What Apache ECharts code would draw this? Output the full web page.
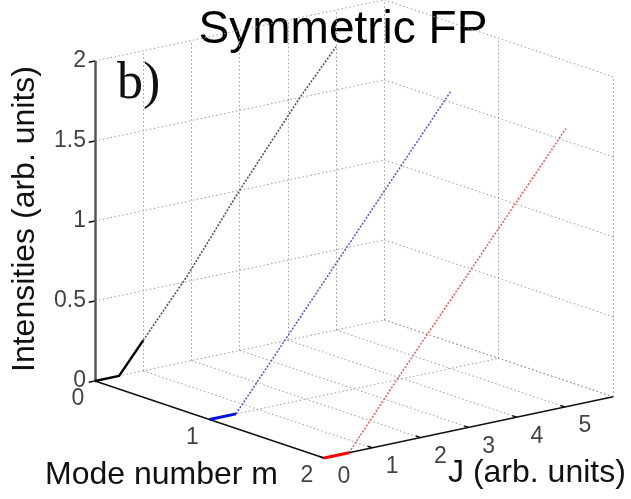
<!DOCTYPE html>
<html>
<head>
<meta charset="utf-8">
<title>Symmetric FP</title>
<script src="https://cdn.jsdelivr.net/npm/echarts@6/dist/echarts.min.js"></script>
<style>
    html, body { margin: 0; padding: 0; background: #fff; }
    #main { width: 631px; height: 499px; }
</style>
</head>
<body>
<div id="main"></div>
<script>
// axis limits and ticks
var mTicks = [0, 1, 2]
var jTicks = [0, 1, 2, 3, 4, 5]
var iTicks = [0, 0.5, 1, 1.5, 2]
var iTickLabels = ['0', '0.5', '1', '1.5', '2']
var mMax = 2, jMax = 6, iMax = 2
var jGrid = [1, 2, 3, 4, 5, 6]

// mode m = 0 (black)
var blackSolidJ = [0, 0.5, 1.0]
var blackSolidI = [0, 0, 0.19]
var blackDotJ = [1.0, 1.9, 3.0, 4.25, 5.0]
var blackDotI = [0.19, 0.53, 1.0, 1.5, 1.77]
// mode m = 1 (blue)
var blueSolidJ = [0, 0.55]
var blueSolidI = [0, 0]
var blueDotJ = [0.55, 1.55, 5.0]
var blueDotI = [0, 0.39, 1.73]
// mode m = 2 (red)
var redSolidJ = [0, 0.52]
var redSolidI = [0, 0]
var redDotJ = [0.52, 1.53, 5.02]
var redDotI = [0, 0.40, 1.74]

// view: where the 3d box lands on the page
var origin = [95, 381]
var mVec = [114.5, 38.5]
var jVec = [48.2, -10.2]
var iScale = 160

function proj(m, j, i) {
    return [origin[0] + m * mVec[0] + j * jVec[0],
            origin[1] + m * mVec[1] + j * jVec[1] - i * iScale]
}

function curve(m, js, is) {
    var out = []
    for (var k = 0; k < js.length; k++) {
        out.push(proj(m, js[k], is[k]))
    }
    return out
}

function seg(a, b) {
    return { coords: [a, b] }
}

// dotted grid on the back wall, side wall and floor
var grid = []
for (var a = 0; a < jGrid.length; a++) {
    var j = jGrid[a]
    grid.push(seg(proj(0, j, 0), proj(0, j, iMax)))
    grid.push(seg(proj(0, j, 0), proj(mMax, j, 0)))
}
for (var b = 0; b < iTicks.length; b++) {
    var iv = iTicks[b]
    grid.push(seg(proj(0, 0, iv), proj(0, jMax, iv)))
    grid.push(seg(proj(0, jMax, iv), proj(mMax, jMax, iv)))
}
for (var c = 1; c < mTicks.length; c++) {
    grid.push(seg(proj(mTicks[c], jMax, 0), proj(mTicks[c], jMax, iMax)))
}
grid.push(seg(proj(1, 0, 0), proj(1, jMax, 0)))

// solid axes and tick marks
var axes = [
    seg(proj(0, 0, 0), proj(mMax, 0, 0)),
    seg(proj(mMax, 0, 0), proj(mMax, jMax, 0))
]
var ticks = []
for (var d = 0; d < jTicks.length; d++) {
    ticks.push(seg(proj(mMax, jTicks[d], 0), proj(mMax - 0.04, jTicks[d], 0)))
}
for (var e = 0; e < iTicks.length; e++) {
    ticks.push(seg(proj(0, 0, iTicks[e]), proj(0, -0.13, iTicks[e])))
}

var iLabelData = [], mLabelData = [], jLabelData = []
for (var f = 0; f < iTicks.length; f++) {
    var p = proj(0, 0, iTicks[f])
    iLabelData.push([p[0], p[1], iTickLabels[f]])
}
for (var g = 0; g < mTicks.length; g++) {
    var q = proj(mTicks[g], 0, 0)
    mLabelData.push([q[0], q[1], String(mTicks[g])])
}
for (var h = 0; h < jTicks.length; h++) {
    var r = proj(mMax, jTicks[h], 0)
    jLabelData.push([r[0], r[1], String(jTicks[h])])
}

function labelSeries(data, pos, offset) {
    return {
        type: 'scatter',
        data: data,
        symbolSize: 0,
        silent: true,
        label: {
            show: true,
            position: pos,
            distance: 9,
            offset: offset,
            formatter: function (pr) { return pr.value[2] },
            fontFamily: 'Liberation Sans',
            fontSize: 23,
            color: '#111'
        }
    }
}

function lineSeries(pts, color, width, type, z) {
    return {
        type: 'line',
        data: pts,
        showSymbol: false,
        silent: true,
        lineStyle: { color: color, width: width, type: type },
        z: z
    }
}

var myChart = echarts.init(document.getElementById('main'), null, { renderer: 'canvas' })
var option = {
    animation: false,
    backgroundColor: '#fff',
    grid: { left: 0, right: 0, top: 0, bottom: 0 },
    xAxis: { type: 'value', min: 0, max: 631, show: false },
    yAxis: { type: 'value', min: 0, max: 499, inverse: true, show: false },
    series: [
        {
            type: 'lines',
            coordinateSystem: 'cartesian2d',
            data: grid,
            silent: true,
            lineStyle: { color: '#9a9a9a', width: 1, type: [1.5, 2.5], opacity: 1 },
            z: 1
        },
        lineSeries(curve(0, blackDotJ, blackDotI), '#555555', 1.6, [2, 1.5], 3),
        lineSeries(curve(1, blueDotJ, blueDotI), '#5a5ae0', 1.6, [2, 1.5], 3),
        lineSeries(curve(2, redDotJ, redDotI), '#ee6060', 1.6, [2, 1.5], 3),
        {
            type: 'lines',
            coordinateSystem: 'cartesian2d',
            data: axes.concat(ticks),
            silent: true,
            lineStyle: { color: '#111', width: 1.5, type: 'solid', opacity: 1 },
            z: 4
        },
        {
            type: 'lines',
            coordinateSystem: 'cartesian2d',
            data: [seg(proj(0, 0, 0), proj(0, 0, iMax))],
            silent: true,
            lineStyle: { color: '#555', width: 2.5, type: 'solid', opacity: 1 },
            z: 4
        },
        lineSeries(curve(0, blackSolidJ, blackSolidI), '#000000', 2.5, 'solid', 5),
        lineSeries(curve(1, blueSolidJ, blueSolidI), '#0010e0', 3, 'solid', 5),
        lineSeries(curve(2, redSolidJ, redSolidI), '#ff0000', 3, 'solid', 5),
        labelSeries(iLabelData, 'left', [0, 0]),
        labelSeries(mLabelData, 'inside', [-17, 18]),
        labelSeries(jLabelData, 'inside', [20, 19])
    ],
    graphic: [
        {
            type: 'text',
            style: {
                text: 'Symmetric FP', x: 343, y: 30,
                textAlign: 'center', textVerticalAlign: 'middle',
                font: '46px "Liberation Sans"', fill: '#000'
            }
        },
        {
            type: 'text',
            style: {
                text: 'b)', x: 117, y: 84,
                textAlign: 'left', textVerticalAlign: 'middle',
                font: '52px "Liberation Serif"', fill: '#111'
            }
        },
        {
            type: 'text',
            x: 25, y: 219, rotation: Math.PI / 2,
            style: {
                text: 'Intensities (arb. units)', x: 0, y: 0,
                textAlign: 'center', textVerticalAlign: 'middle',
                font: '32px "Liberation Sans"', fill: '#111'
            }
        },
        {
            type: 'text',
            style: {
                text: 'Mode number m', x: 45, y: 475,
                textAlign: 'left', textVerticalAlign: 'middle',
                font: '32px "Liberation Sans"', fill: '#111'
            }
        },
        {
            type: 'text',
            style: {
                text: 'J (arb. units)', x: 448, y: 473,
                textAlign: 'left', textVerticalAlign: 'middle',
                font: '32px "Liberation Sans"', fill: '#111'
            }
        }
    ]
}

myChart.setOption(option)
</script>
</body>
</html>
